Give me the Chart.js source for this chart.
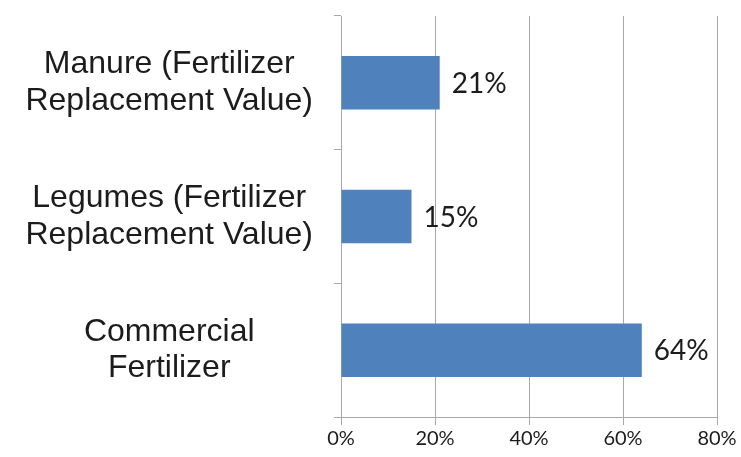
<!DOCTYPE html>
<html>
<head>
<meta charset="utf-8">
<script src="https://cdn.jsdelivr.net/npm/chart.js@4/dist/chart.umd.min.js"></script>
<style>
  html, body { margin: 0; padding: 0; background: #fff; }
  #wrap { width: 741px; height: 457px; }
</style>
</head>
<body>
<div id="wrap"><canvas id="c" width="741" height="457"></canvas></div>
<script>
const categories = [
  ["Manure (Fertilizer", "Replacement Value)"],
  ["Legumes (Fertilizer", "Replacement Value)"],
  ["Commercial", "Fertilizer"]
];
const shares = [21, 15, 64];
const xTicks = [0, 20, 40, 60, 80];

const gridColor = '#a9a9a9';
const textColor = '#1c1c1c';

const valueLabels = {
  id: 'valueLabels',
  afterDatasetsDraw(chart) {
    const ctx = chart.ctx;
    const meta = chart.getDatasetMeta(0);
    ctx.save();
    ctx.font = '28px Lato';
    ctx.fillStyle = textColor;
    ctx.textAlign = 'left';
    ctx.textBaseline = 'middle';
    meta.data.forEach((bar, i) => {
      ctx.fillText(shares[i] + '%', bar.x + 12, bar.y + 1);
    });
    ctx.restore();
  }
};

new Chart(document.getElementById('c'), {
  type: 'bar',
  data: {
    labels: categories,
    datasets: [{
      data: shares,
      backgroundColor: '#4F81BD',
      borderWidth: 0,
      barPercentage: 0.4,
      categoryPercentage: 1.0
    }]
  },
  options: {
    indexAxis: 'y',
    responsive: false,
    animation: false,
    layout: { padding: { top: 16, right: 24, left: 0, bottom: 0 } },
    plugins: { legend: { display: false }, tooltip: { enabled: false } },
    scales: {
      x: {
        min: 0,
        max: 80,
        afterBuildTicks(scale) { scale.ticks = xTicks.map(v => ({ value: v })); },
        afterFit(scale) { scale.height = 40; },
        grid: { color: gridColor, lineWidth: 1, tickLength: 8, drawTicks: true },
        border: { display: true, color: gridColor, width: 1 },
        ticks: {
          callback: v => v + '%',
          font: { family: 'Lato', size: 20 },
          color: textColor,
          padding: 2,
          maxRotation: 0
        }
      },
      y: {
        afterFit(scale) { scale.width = 341; scale.paddingTop = 0; scale.paddingBottom = 0; },
        grid: { drawOnChartArea: false, drawTicks: true, tickLength: 7, color: gridColor, offset: true },
        border: { display: true, color: gridColor, width: 1 },
        ticks: {
          font: { family: 'Liberation Sans', size: 32, lineHeight: 1.15 },
          color: textColor,
          crossAlign: 'center',
          padding: 21
        }
      }
    }
  },
  plugins: [valueLabels]
});
</script>
</body>
</html>
